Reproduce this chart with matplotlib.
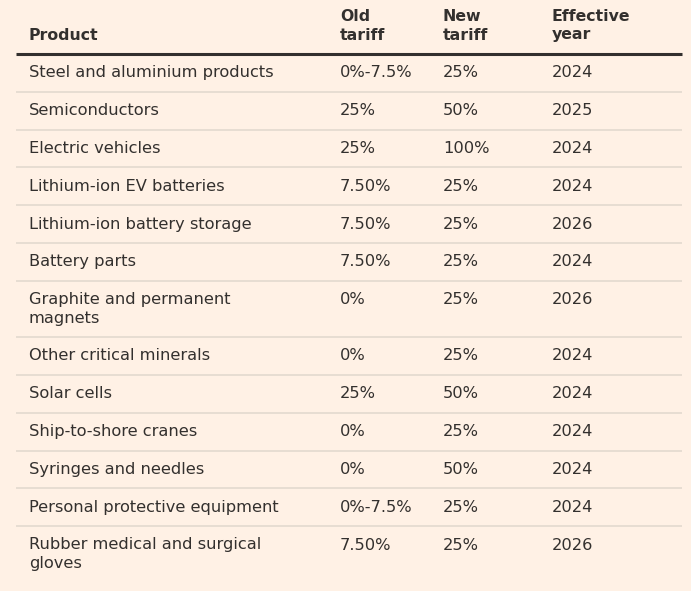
import matplotlib.pyplot as plt

# ── table data ──────────────────────────────────────────────
headers = ["Product", "Old\ntariff", "New\ntariff", "Effective\nyear"]
products = [
    "Steel and aluminium products",
    "Semiconductors",
    "Electric vehicles",
    "Lithium-ion EV batteries",
    "Lithium-ion battery storage",
    "Battery parts",
    "Graphite and permanent\nmagnets",
    "Other critical minerals",
    "Solar cells",
    "Ship-to-shore cranes",
    "Syringes and needles",
    "Personal protective equipment",
    "Rubber medical and surgical\ngloves",
]
old_tariff = ["0%-7.5%", "25%", "25%", "7.50%", "7.50%", "7.50%", "0%",
              "0%", "25%", "0%", "0%", "0%-7.5%", "7.50%"]
new_tariff = ["25%", "50%", "100%", "25%", "25%", "25%", "25%",
              "25%", "50%", "25%", "50%", "25%", "25%"]
eff_year = ["2024", "2025", "2024", "2024", "2026", "2024", "2026",
            "2024", "2024", "2024", "2024", "2024", "2026"]

# ── layout (pixel coords) ───────────────────────────────────
W, H = 691, 591
BG = "#fff1e5"
TXT = "#33302e"
SEP = "#e3d9cf"
col_x = [29, 340, 443, 552]
line_x0, line_x1 = 16, 682
header_line_y = 54
single_h = 37.8
line_gap = 18.5
FS_HEAD = 11.3
FS = 11.7

plt.rcParams["font.family"] = ["DejaVu Sans"]

fig = plt.figure(figsize=(W / 100, H / 100), dpi=100, facecolor=BG)
ax = fig.add_axes([0, 0, 1, 1])
ax.set_xlim(0, W)
ax.set_ylim(H, 0)
ax.axis("off")
ax.set_facecolor(BG)

# header
for x, h in zip(col_x, headers):
    lines = h.split("\n")
    for k, ln in enumerate(lines[::-1]):
        ax.text(x, 35 - k * line_gap, ln, fontsize=FS_HEAD, fontweight="bold",
                color=TXT, va="center", ha="left")
ax.plot([line_x0, line_x1], [header_line_y, header_line_y], color=TXT,
        lw=2.2, solid_capstyle="butt")

# body rows
y = header_line_y
for i, prod in enumerate(products):
    n_lines = prod.count("\n") + 1
    row_h = single_h + (n_lines - 1) * line_gap
    first = y + single_h / 2
    cells = [prod, old_tariff[i], new_tariff[i], eff_year[i]]
    for x, c in zip(col_x, cells):
        for k, ln in enumerate(c.split("\n")):
            ax.text(x, first + k * line_gap, ln, fontsize=FS, color=TXT,
                    va="center", ha="left")
    y += row_h
    if i < len(products) - 1:
        ax.plot([line_x0, line_x1], [y, y], color=SEP, lw=1.2,
                solid_capstyle="butt")

fig.savefig("out.png", dpi=100, facecolor=BG)
